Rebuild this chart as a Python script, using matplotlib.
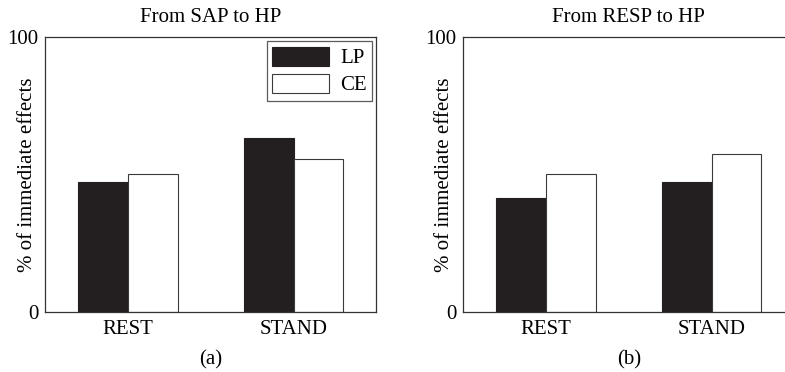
import numpy as np
import matplotlib.pyplot as plt

# Immediate effects (%) by condition
conditions = ['REST', 'STAND']
sap_lp = [47.2, 63.3]
sap_ce = [50.2, 55.6]
resp_lp = [41.5, 47.2]
resp_ce = [50.2, 57.2]

titles = ['From SAP to HP', 'From RESP to HP']
panels = ['(a)', '(b)']

plt.rcParams['font.family'] = ['Liberation Serif', 'DejaVu Serif']
plt.rcParams['font.size'] = 15

dark = '#231f20'
edge = '#3a3a3a'

fig = plt.figure(figsize=(7.85, 3.72), dpi=100)
ax1 = fig.add_axes([0.0577, 0.162, 0.4217, 0.739])
ax2 = fig.add_axes([0.5902, 0.162, 0.4217, 0.739])

x = np.arange(len(conditions))
w = 0.3
for ax, lp, ce, title, tag, lx in zip([ax1, ax2], [sap_lp, resp_lp], [sap_ce, resp_ce],
                                      titles, panels, [-0.025, -0.028]):
    ax.bar(x - w / 2, lp, w, color=dark, edgecolor=dark, linewidth=0.8, label='LP')
    ax.bar(x + w / 2, ce, w, color='white', edgecolor=edge, linewidth=0.8, label='CE')
    ax.set_xlim(-0.5, 1.5)
    ax.set_ylim(0, 100)
    ax.set_yticks([0, 100])
    ax.set_xticks(x)
    ax.set_xticklabels(conditions)
    ax.tick_params(length=0, labelsize=15, pad=5)
    ax.tick_params(axis='x', pad=6)
    ax.set_ylabel('% of immediate effects', fontsize=15)
    ax.yaxis.set_label_coords(lx, 0.5)
    ax.set_title(title, fontsize=15, pad=11)
    ax.text(0.5, -0.14, tag, transform=ax.transAxes, ha='center', va='top', fontsize=15)
    for s in ax.spines.values():
        s.set_linewidth(0.9)
        s.set_color('#333333')

leg = ax1.legend(loc='upper right', bbox_to_anchor=(1.0, 1.0), fancybox=False,
                 edgecolor='#333333', handlelength=2.75, handleheight=1.05,
                 handletextpad=0.5, labelspacing=0.25, borderpad=0.25,
                 borderaxespad=0.22, fontsize=15)
leg.get_frame().set_linewidth(0.9)

fig.savefig('out.png', dpi=100)
